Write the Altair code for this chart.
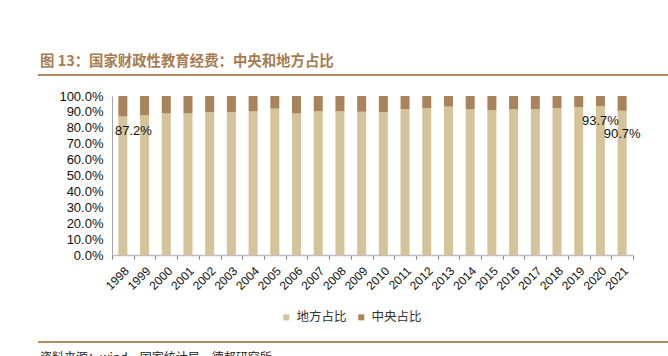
import altair as alt
import pandas as pd

years = [str(y) for y in range(1998, 2022)]
series = ["地方占比", "中央占比"]
local_share = [87.2, 88.0, 89.0, 89.0, 89.8, 89.8, 90.5, 92.1, 89.0, 90.4, 90.4, 90.1,
               89.8, 91.8, 92.3, 93.3, 91.8, 91.0, 91.8, 91.8, 92.2, 93.1, 93.7, 90.7]
central_share = [12.8, 12.0, 11.0, 11.0, 10.2, 10.2, 9.5, 7.9, 11.0, 9.6, 9.6, 9.9,
                 10.2, 8.2, 7.7, 6.7, 8.2, 9.0, 8.2, 8.2, 7.8, 6.9, 6.3, 9.3]
y_ticks = [0, 10, 20, 30, 40, 50, 60, 70, 80, 90, 100]
label_years = ["1998", "2020", "2021"]
label_values = [87.2, 93.7, 90.7]

title_text = "图 13：国家财政性教育经费：中央和地方占比"
source_text = "资料来源：wind，国家统计局，德邦研究所"

colors = ["#D5C49B", "#A9835A"]
brown = "#A67C52"
cjk = "Noto Sans CJK SC"
latin = "Liberation Sans"

rows = []
for i, y in enumerate(years):
    rows.append({"year": y, "series": series[0], "value": local_share[i], "ord": 0})
    rows.append({"year": y, "series": series[1], "value": central_share[i], "ord": 1})
df = pd.DataFrame(rows)

x_axis = alt.Axis(title=None, labelAngle=-45, labelFont=latin, labelFontSize=12,
                  labelColor="#111", domainColor="#BFBFBF", domainWidth=1.5,
                  tickColor="#808080", tickSize=4, tickBand="extent",
                  labelPadding=6, labelOverlap=False)
y_axis = alt.Axis(title=None, values=y_ticks, grid=False,
                  labelExpr="format(datum.value, '.1f') + '%'",
                  labelFont=latin, labelFontSize=13, labelColor="#111",
                  labelOverlap=False, ticks=False, domainColor="#A6A6A6", labelPadding=9)
x_scale = alt.Scale(paddingInner=0, paddingOuter=0)
y_scale = alt.Scale(domain=[0, 100], nice=False)

bars = alt.Chart(df).mark_bar(size=9).encode(
    x=alt.X("year:N", sort=years, scale=x_scale, axis=x_axis),
    y=alt.Y("value:Q", stack="zero", scale=y_scale, axis=y_axis),
    color=alt.Color("series:N", scale=alt.Scale(domain=series, range=colors),
                    legend=alt.Legend(title=None, orient="none", direction="horizontal",
                                      legendX=168, legendY=215, symbolType="square",
                                      symbolSize=36, labelFont=cjk, labelFontSize=12.5,
                                      labelColor="#333", labelOffset=4, columnPadding=8,
                                      symbolStrokeWidth=0)),
    order=alt.Order("ord:Q"),
)

lab = pd.DataFrame({"year": label_years, "value": label_values})
lab["txt"] = [f"{v:.1f}%" for v in label_values]

def label_layer(idx, dx, dy):
    d = lab.iloc[[idx]]
    return alt.Chart(d).mark_text(font=latin, fontSize=13, color="#111", dx=dx, dy=dy,
                                  baseline="middle").encode(
        x=alt.X("year:N", sort=years, scale=x_scale, axis=x_axis),
        y=alt.Y("value:Q", scale=y_scale, axis=y_axis),
        text="txt:N")

l1 = label_layer(0, 10.5, 15)
l2 = label_layer(1, 0, 15)
l3 = label_layer(2, 0, 23.5)

one = pd.DataFrame({"t": [title_text]})
title = alt.Chart(one).mark_text(align="left", baseline="alphabetic", font=cjk,
                                 fontSize=14.4, fontWeight="bold", color=brown).encode(
    x=alt.value(-72), y=alt.value(-30), text="t:N")

src = alt.Chart(pd.DataFrame({"t": [source_text]})).mark_text(
    align="left", baseline="alphabetic", font=cjk, fontSize=12, color="#222").encode(
    x=alt.value(-72), y=alt.value(266), text="t:N")

rule_top = alt.Chart(one).mark_rule(color="#B88A5E", strokeWidth=2).encode(
    x=alt.value(-74), x2=alt.value(556), y=alt.value(-21))
rule_bot = alt.Chart(one).mark_rule(color="#B88A5E", strokeWidth=2).encode(
    x=alt.value(-74), x2=alt.value(556), y=alt.value(246))

chart = alt.layer(bars, l1, l2, l3, title, src, rule_top, rule_bot).properties(
    width=521, height=159,
    autosize=alt.AutoSizeParams(type="none"),
    padding={"left": 112, "top": 96, "right": 35, "bottom": 101},
).configure_view(stroke=None)

chart.save("out.html", embed_options={"renderer": "svg", "actions": False})
